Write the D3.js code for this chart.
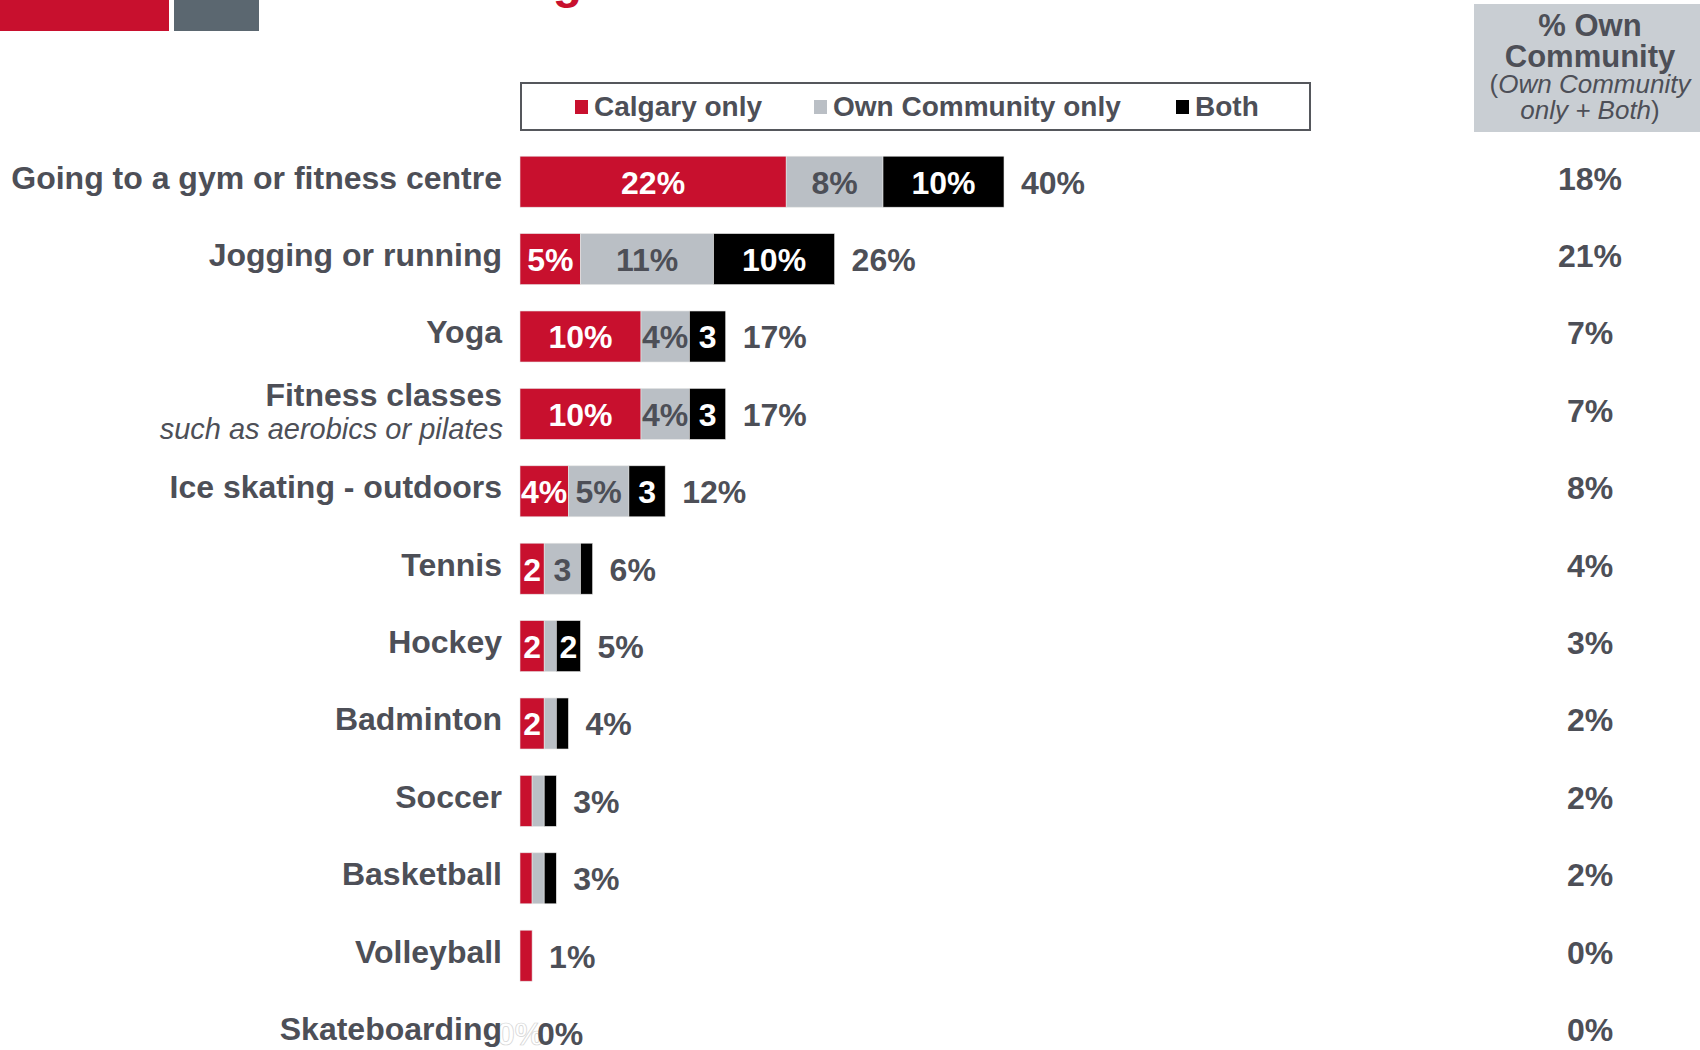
<!DOCTYPE html>
<html>
<head>
<meta charset="utf-8">
<script src="https://cdn.jsdelivr.net/npm/d3@7"></script>
<style>
  body { margin: 0; background: #fff; }
  svg { display: block; font-family: "Liberation Sans", Arial, sans-serif; }
</style>
</head>
<body>
<svg id="chart" width="1700" height="1050"></svg>
<script>
// activities, top to bottom
const categories = ["Going to a gym or fitness centre", "Jogging or running", "Yoga", "Fitness classes",
    "Ice skating - outdoors", "Tennis", "Hockey", "Badminton", "Soccer", "Basketball", "Volleyball", "Skateboarding"];
const subLabels = { "Fitness classes": "such as aerobics or pilates" };

// stacked series (%)
const calgaryOnly = [22, 5, 10, 10, 4, 2, 2, 2, 1, 1, 1, 0];
const ownOnly = [8, 11, 4, 4, 5, 3, 1, 1, 1, 1, 0, 0];
const both = [10, 10, 3, 3, 3, 1, 2, 1, 1, 1, 0, 0];

// labels as printed inside the segments
const calgaryLabels = ["22%", "5%", "10%", "10%", "4%", "2", "2", "2", "", "", "", "0%"];
const ownLabels = ["8%", "11%", "4%", "4%", "5%", "3", "", "", "", "", "", ""];
const bothLabels = ["10%", "10%", "3", "3", "3", "", "2", "", "", "", "", ""];

const totalLabels = ["40%", "26%", "17%", "17%", "12%", "6%", "5%", "4%", "3%", "3%", "1%", "0%"];
const ownCommunity = ["18%", "21%", "7%", "7%", "8%", "4%", "3%", "2%", "2%", "2%", "0%", "0%"];

const legendNames = ["Calgary only", "Own Community only", "Both"];

const CONFIG = {
    red: '#c8102e',
    gray: '#babfc5',
    black: '#000000',
    text: '#4d4f57',
    headerBg: '#c9ced3',
    font: 32
};

const svg = d3.select('#chart');

const xScale = d3.scaleLinear().domain([0, 40]).range([520, 1004]);
const yScale = d3.scaleBand().domain(categories).range([143, 143 + 12 * 77.4])
    .paddingInner(0.341).paddingOuter(0.1705);

// top corner blocks and clipped title
svg.append('rect').attr('x', 0).attr('y', 0).attr('width', 169).attr('height', 31).attr('fill', CONFIG.red);
svg.append('rect').attr('x', 174).attr('y', 0).attr('width', 85).attr('height', 31).attr('fill', '#5b6770');
svg.append('text')
    .attr('x', 582).attr('y', -2)
    .attr('text-anchor', 'end')
    .attr('font-size', 48).attr('font-weight', 'bold')
    .attr('fill', CONFIG.red)
    .text('Where Residents Are Exercising');

// legend
svg.append('rect')
    .attr('x', 521).attr('y', 83).attr('width', 789).attr('height', 47)
    .attr('fill', 'none').attr('stroke', '#55575c').attr('stroke-width', 2);
const legendColors = [CONFIG.red, CONFIG.gray, CONFIG.black];
const legendX = [575, 814, 1176];
const legend = svg.selectAll('.legend')
    .data(legendNames)
    .enter()
    .append('g')
    .attr('class', 'legend')
    .attr('transform', (d, i) => `translate(${legendX[i]},0)`);
legend.append('rect')
    .attr('x', 0).attr('y', 100).attr('width', 13).attr('height', 14)
    .attr('fill', (d, i) => legendColors[i]);
legend.append('text')
    .attr('x', 19).attr('y', 116)
    .attr('font-size', 28).attr('font-weight', 'bold')
    .attr('fill', CONFIG.text)
    .text(d => d);

// right header
svg.append('rect').attr('x', 1474).attr('y', 4).attr('width', 226).attr('height', 128).attr('fill', CONFIG.headerBg);
const hx = 1590;
svg.append('text').attr('x', hx).attr('y', 36).attr('text-anchor', 'middle')
    .attr('font-size', 31).attr('font-weight', 'bold').attr('fill', CONFIG.text).text('% Own');
svg.append('text').attr('x', hx).attr('y', 67).attr('text-anchor', 'middle')
    .attr('font-size', 31).attr('font-weight', 'bold').attr('fill', CONFIG.text).text('Community');
const h3 = svg.append('text').attr('x', hx).attr('y', 93).attr('text-anchor', 'middle')
    .attr('font-size', 26).attr('fill', CONFIG.text);
h3.append('tspan').text('(');
h3.append('tspan').attr('font-style', 'italic').text('Own Community');
const h4 = svg.append('text').attr('x', hx).attr('y', 119).attr('text-anchor', 'middle')
    .attr('font-size', 26).attr('fill', CONFIG.text);
h4.append('tspan').attr('font-style', 'italic').text('only + Both');
h4.append('tspan').text(')');

// stacked data
const rows = categories.map((c, i) => ({
    name: c,
    values: [calgaryOnly[i], ownOnly[i], both[i]],
    labels: [calgaryLabels[i], ownLabels[i], bothLabels[i]],
    total: totalLabels[i],
    own: ownCommunity[i]
}));

const segColors = [CONFIG.red, CONFIG.gray, CONFIG.black];
const segText = ['#ffffff', CONFIG.text, '#ffffff'];
const bh = yScale.bandwidth();

const rowG = svg.selectAll('.row')
    .data(rows)
    .enter()
    .append('g')
    .attr('class', 'row')
    .attr('transform', d => `translate(0,${yScale(d.name)})`);

rowG.each(function (d) {
    const g = d3.select(this);
    let acc = 0;
    d.values.forEach((v, k) => {
        const x0 = xScale(acc), x1 = xScale(acc + v);
        if (v > 0) {
            g.append('rect')
                .attr('x', x0).attr('y', 0)
                .attr('width', x1 - x0).attr('height', bh)
                .attr('fill', segColors[k])
                .attr('stroke', '#e6e6e6').attr('stroke-width', 0.6);
        }
        if (d.labels[k]) {
            const t = g.append('text')
                .attr('x', (x0 + x1) / 2).attr('y', bh / 2 + 12)
                .attr('text-anchor', 'middle')
                .attr('font-size', CONFIG.font).attr('font-weight', 'bold')
                .text(d.labels[k]);
            if (v > 0) {
                t.attr('fill', segText[k]);
            } else {
                // zero-width segment: hollow label
                t.attr('fill', '#ffffff').attr('stroke', '#d4d4d4').attr('stroke-width', 0.7);
            }
        }
        acc += v;
    });
    // total
    g.append('text')
        .attr('x', xScale(acc) + 17).attr('y', bh / 2 + 12)
        .attr('font-size', CONFIG.font).attr('font-weight', 'bold')
        .attr('fill', CONFIG.text)
        .text(d.total);
    // own community column
    g.append('text')
        .attr('x', hx).attr('y', bh / 2 + 8)
        .attr('text-anchor', 'middle')
        .attr('font-size', CONFIG.font).attr('font-weight', 'bold')
        .attr('fill', CONFIG.text)
        .text(d.own);
    // category label
    const sub = subLabels[d.name];
    g.append('text')
        .attr('x', 502).attr('y', sub ? bh / 2 - 8 : bh / 2 + 7)
        .attr('text-anchor', 'end')
        .attr('font-size', CONFIG.font).attr('font-weight', 'bold')
        .attr('fill', CONFIG.text)
        .text(d.name);
    if (sub) {
        g.append('text')
            .attr('x', 503).attr('y', bh / 2 + 25)
            .attr('text-anchor', 'end')
            .attr('font-size', 29).attr('font-style', 'italic')
            .attr('fill', CONFIG.text)
            .text(sub);
    }
});
</script>
</body>
</html>
